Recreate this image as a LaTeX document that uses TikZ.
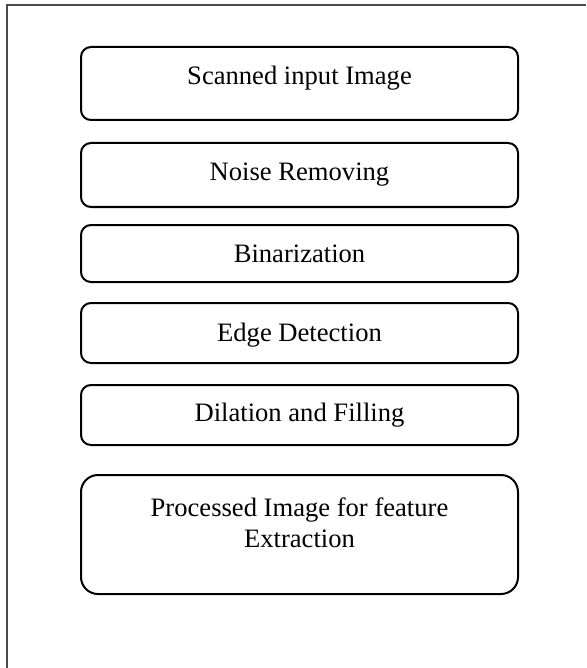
\documentclass[tikz,border=0pt]{standalone}
\usepackage{fontspec}
\setmainfont{Liberation Serif}
\usetikzlibrary{positioning}
\definecolor{cFrame}{HTML}{4A4A4A}
\definecolor{cStage}{HTML}{000000}
\tikzset{
  stagebox/.style={
    draw=cStage, line width=1pt, rounded corners=5pt,
    minimum width=218.5pt, minimum height=#1, inner sep=0pt,
    align=center, font=\fontsize{13.3}{15.5}\selectfont
  },
  frameline/.style={
    draw=cFrame, line width=1.1pt
  },
}

\begin{document}
\begin{tikzpicture}[x=1pt, y=1pt]

% ---- page size ----
\useasboundingbox (0,0) rectangle (293,-334);

% ---- outer frame (top and left only) ----
\coordinate (ftr) at (293,-2.5);
\coordinate (ftl) at (3.5,-2.5);
\coordinate (fbl) at (3.5,-334);
\draw[frameline] (ftr) -- (ftl) -- (fbl);

% ---- stages ----
\node[stagebox=36.5pt, text depth=8.6pt] (scan) at (149.75,-41.75)
  {Scanned input Image};
\node[stagebox=32pt, below=10.5pt of scan] (noise) {Noise Removing};
\node[stagebox=28.5pt, below=8pt of noise] (bin) {Binarization};
\node[stagebox=30pt, below=9.5pt of bin, text depth=0.5pt] (edge) {Edge Detection};
\node[stagebox=30pt, below=10pt of edge] (dil) {Dilation and Filling};
\node[stagebox=59.5pt, below=14pt of dil, rounded corners=8.5pt,
      text depth=12pt] (proc)
  {Processed Image for feature\\Extraction};

\end{tikzpicture}
\end{document}
